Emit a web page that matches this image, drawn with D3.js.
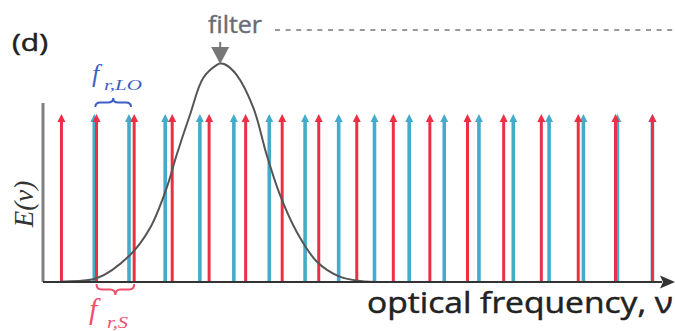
<!DOCTYPE html>
<meta charset="utf-8">
<style>* {padding:0; margin:0; border:0; outline:0;} body {background:#fff;}</style>
<body>
<script src="https://cdn.jsdelivr.net/npm/d3@7"></script>
<script>
// comb line positions, in units of the signal repetition rate
var redComb  = [0.5, 1.45, 2.47, 3.5, 4.5, 5.49, 6.48, 7.47, 8.5, 9.49, 10.48, 11.5, 12.48, 13.5, 14.5, 15.51, 16.51];
var blueComb = [1.39, 2.33, 3.31, 4.25, 5.17, 6.13, 7.10, 8.01, 8.98, 9.92, 10.87, 11.81, 12.74, 13.71, 14.64, 15.56, 16.51];
var combAmp = 1;

// optical filter transmission
var filterNu = [0.46, 0.55, 1.45, 2.36, 2.90, 3.35, 3.62, 3.98, 4.34, 4.71, 4.80, 4.92, 5.25, 5.70, 6.06, 6.42, 6.87, 7.42, 8.04, 8.59, 9.21];
var filterE  = [0.0, 0.003, 0.022, 0.161, 0.321, 0.560, 0.756, 0.994, 1.214, 1.292, 1.30, 1.296, 1.232, 1.036, 0.756, 0.518, 0.299, 0.121, 0.032, 0.006, 0.0];
var filterPeak = 4.80;

var labels = {panel: "(d)", filter: "filter", xAxis: "optical frequency, \u03bd", yAxis: "E(\u03bd)"};

var W = 675, H = 331;
var x = d3.scaleLinear().domain([0, 17.04]).range([43, 672]);
var y = d3.scaleLinear().domain([0, 1]).range([282, 114]);

var svg = d3.select('body').append('svg').attr('width', W).attr('height', H);

var red = '#ec2f45', blue = '#45abcb';

function comb(vals, col, w) {
  var g = svg.append('g');
  g.selectAll('line').data(vals).enter().append('line')
    .attr('x1', function(d){return x(d);}).attr('x2', function(d){return x(d);})
    .attr('y1', y(0)).attr('y2', y(combAmp) + 5)
    .attr('stroke', col).attr('stroke-width', w);
  g.selectAll('path').data(vals).enter().append('path')
    .attr('d', function(d){
      var cx = x(d), t = y(combAmp);
      return 'M' + cx + ',' + t + 'L' + (cx + 4) + ',' + (t + 8) + 'L' + (cx - 4) + ',' + (t + 8) + 'Z';
    })
    .attr('fill', col);
}
comb(blueComb, blue, 3.6);
comb(redComb, red, 3);

// filter curve
var pts = d3.zip(filterNu, filterE);
svg.append('path').datum(pts)
  .attr('d', d3.line().x(function(d){return x(d[0]);}).y(function(d){return y(d[1]);}).curve(d3.curveCatmullRom))
  .attr('fill', 'none').attr('stroke', '#555').attr('stroke-width', 2);

// axes
svg.append('line').attr('x1', x(0)).attr('x2', x(0)).attr('y1', 103).attr('y2', y(0))
  .attr('stroke', '#808080').attr('stroke-width', 3);
svg.append('line').attr('x1', x(0)).attr('x2', x.range()[1] - 10).attr('y1', y(0)).attr('y2', y(0))
  .attr('stroke', '#333').attr('stroke-width', 2);
svg.append('path')
  .attr('d', 'M' + (x.range()[1] + 3) + ',' + y(0) + 'l-15,-6.5l3,6.5l-3,6.5z')
  .attr('fill', '#333');

// filter marker + dashed line
var fx = x(filterPeak);
svg.append('line').attr('x1', fx).attr('x2', fx).attr('y1', 42).attr('y2', 50)
  .attr('stroke', '#777').attr('stroke-width', 2);
svg.append('path').attr('d', 'M' + (fx - 9) + ',47L' + (fx + 9) + ',47L' + fx + ',64Z').attr('fill', '#777');
svg.append('text').attr('x', 208).attr('y', 33).text(labels.filter)
  .attr('font-family', 'Open Sans').attr('font-size', 24).attr('fill', '#6a6a74')
  .attr('stroke', '#6a6a74').attr('stroke-width', 0.4)
  .attr('textLength', 54).attr('lengthAdjust', 'spacingAndGlyphs');
svg.append('line').attr('x1', 275).attr('x2', W).attr('y1', 30).attr('y2', 30)
  .attr('stroke', '#999').attr('stroke-width', 2).attr('stroke-dasharray', '5,5.6');

// panel label
svg.append('text').attr('x', 12).attr('y', 51).text(labels.panel)
  .attr('font-family', 'Open Sans').attr('font-size', 24).attr('fill', '#222')
  .attr('stroke', '#222').attr('stroke-width', 0.5)
  .attr('textLength', 36).attr('lengthAdjust', 'spacingAndGlyphs');

// axis titles
svg.append('text').attr('x', 367).attr('y', 313).text(labels.xAxis)
  .attr('font-family', 'Open Sans').attr('font-size', 30).attr('fill', '#222')
  .attr('stroke', '#222').attr('stroke-width', 0.5)
  .attr('textLength', 306).attr('lengthAdjust', 'spacingAndGlyphs');
svg.append('text').attr('transform', 'translate(33,204) rotate(-90)')
  .attr('text-anchor', 'middle').text(labels.yAxis)
  .attr('font-family', 'Liberation Serif').attr('font-style', 'italic').attr('font-size', 27).attr('fill', '#333');

// braces
function brace(x1, x2, y0, d) {
  var xm = (x1 + x2) / 2, h = y0 + d / 2, q = 5;
  return 'M' + x1 + ',' + y0 + 'Q' + x1 + ',' + h + ' ' + (x1 + q) + ',' + h +
    'L' + (xm - q) + ',' + h + 'Q' + xm + ',' + h + ' ' + xm + ',' + (y0 + d) +
    'Q' + xm + ',' + h + ' ' + (xm + q) + ',' + h +
    'L' + (x2 - q) + ',' + h + 'Q' + x2 + ',' + h + ' ' + x2 + ',' + y0;
}
var loCol = '#3d5fc4', sCol = '#f0506e';
svg.append('path').attr('d', brace(x(blueComb[0]) + 1, x(blueComb[1]) + 2, 107, -9))
  .attr('fill', 'none').attr('stroke', loCol).attr('stroke-width', 2);
svg.append('path').attr('d', brace(x(redComb[1]), x(redComb[2]), 284, 11))
  .attr('fill', 'none').attr('stroke', sCol).attr('stroke-width', 2);

var lo = svg.append('text').attr('font-family', 'Liberation Serif').attr('font-style', 'italic').attr('fill', loCol);
lo.append('tspan').attr('x', 92).attr('y', 82).attr('font-size', 26).text('f');
lo.append('tspan').attr('x', 104).attr('y', 90).attr('font-size', 15)
  .attr('textLength', 38).attr('lengthAdjust', 'spacingAndGlyphs').text('r,LO');

var sl = svg.append('text').attr('font-family', 'Liberation Serif').attr('font-style', 'italic').attr('fill', sCol);
sl.append('tspan').attr('x', 89).attr('y', 319).attr('font-size', 30).text('f');
sl.append('tspan').attr('x', 107).attr('y', 328).attr('font-size', 16)
  .attr('textLength', 21).attr('lengthAdjust', 'spacingAndGlyphs').text('r,S');
</script>
